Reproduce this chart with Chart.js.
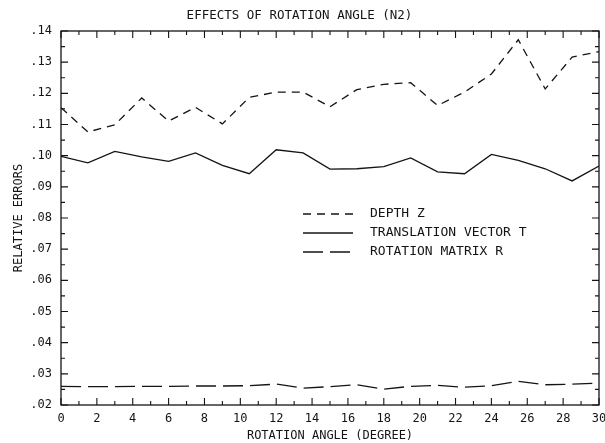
<!DOCTYPE html>
<html>
<head>
<meta charset="utf-8">
<script src="https://cdn.jsdelivr.net/npm/chart.js@4"></script>
<style>
  html, body { margin: 0; padding: 0; background: #fff; }
  #wrap { width: 605px; height: 443px; }
</style>
</head>
<body>
<div id="wrap"><canvas id="myChart" width="605" height="443"></canvas></div>
<script>
// rotation angle in degrees
const angles = [0, 1.5, 3, 4.5, 6, 7.5, 9, 10.5, 12, 13.5, 15, 16.5, 18, 19.5, 21, 22.5, 24, 25.5, 27, 28.5, 30];

const depthZ = [0.1154, 0.1076, 0.1099, 0.1185, 0.1111, 0.1155, 0.1102, 0.1187, 0.1204, 0.1204, 0.1157,
    0.1212, 0.1229, 0.1234, 0.1161, 0.1204, 0.1262, 0.1372, 0.1214, 0.1316, 0.1334];
const translationT = [0.0998, 0.0977, 0.1014, 0.0996, 0.0982, 0.1009, 0.0969, 0.0942, 0.1019, 0.1009, 0.0957,
    0.0958, 0.0965, 0.0993, 0.0948, 0.0942, 0.1004, 0.0985, 0.0958, 0.0919, 0.0967];
const rotationR = [0.0260, 0.0259, 0.0259, 0.0260, 0.0260, 0.0261, 0.0261, 0.0262, 0.0267, 0.0254, 0.0259,
    0.0265, 0.0251, 0.0260, 0.0263, 0.0257, 0.0262, 0.0276, 0.0265, 0.0267, 0.0270];

const seriesNames = ['DEPTH Z', 'TRANSLATION VECTOR T', 'ROTATION MATRIX R'];
const yTicks = [0.02, 0.03, 0.04, 0.05, 0.06, 0.07, 0.08, 0.09, 0.10, 0.11, 0.12, 0.13, 0.14];

const ink = '#141414';
const mono = "'DejaVu Sans Mono', 'Liberation Mono', monospace";

function pts(ys) {
    return ys.map((y, i) => ({x: angles[i], y: y}));
}

const dashes = [[8, 6], [], [20, 7]];

// inward tick marks, frame and the legend inside the plot
const plotterBits = {
    id: 'plotterBits',
    afterDatasetsDraw(chart) {
        const ctx = chart.ctx;
        const a = chart.chartArea;
        const xs = chart.scales.x, ys = chart.scales.y;
        ctx.save();
        ctx.strokeStyle = ink;
        ctx.lineWidth = 1.3;
        ctx.strokeRect(a.left, a.top, a.right - a.left, a.bottom - a.top);
        ctx.lineWidth = 1.1;
        ctx.beginPath();
        for (let d = 0; d <= 30; d++) {
            const px = xs.getPixelForValue(d);
            const len = d % 2 === 0 ? 7 : 4;
            ctx.moveTo(px, a.bottom); ctx.lineTo(px, a.bottom - len);
            ctx.moveTo(px, a.top); ctx.lineTo(px, a.top + len);
        }
        for (let k = 0; k <= 24; k++) {
            const v = 0.02 + k * 0.005;
            const py = ys.getPixelForValue(v);
            const len = k % 2 === 0 ? 7 : 4;
            ctx.moveTo(a.left, py); ctx.lineTo(a.left + len, py);
            ctx.moveTo(a.right, py); ctx.lineTo(a.right - len, py);
        }
        ctx.stroke();

        // legend
        const lx0 = 303, lx1 = 353, tx = 370;
        const rows = [214, 233, 252];
        ctx.font = '13px ' + mono;
        ctx.fillStyle = ink;
        ctx.textBaseline = 'middle';
        chart.data.datasets.forEach((ds, i) => {
            ctx.beginPath();
            ctx.setLineDash(ds.borderDash || []);
            ctx.lineWidth = 1.3;
            ctx.moveTo(lx0, rows[i]);
            ctx.lineTo(lx1, rows[i]);
            ctx.stroke();
            ctx.setLineDash([]);
            ctx.fillText(ds.label, tx, rows[i]);
        });
        ctx.restore();
    }
};

const config = {
    type: 'line',
    data: {
        datasets: [depthZ, translationT, rotationR].map((ys, i) => ({
            label: seriesNames[i],
            data: pts(ys),
            borderColor: ink,
            backgroundColor: ink,
            borderWidth: 1.3,
            borderDash: dashes[i],
            pointRadius: 0,
            tension: 0,
            fill: false
        }))
    },
    options: {
        responsive: false,
        animation: false,
        devicePixelRatio: 1,
        layout: {padding: {left: 0, right: 6, top: 0, bottom: 0}},
        plugins: {
            legend: {display: false},
            tooltip: {enabled: false},
            title: {
                display: true,
                text: 'EFFECTS OF ROTATION ANGLE (N2)',
                color: ink,
                font: {family: mono, size: 12.5, weight: 'normal'},
                padding: {top: 8, bottom: 8}
            }
        },
        scales: {
            x: {
                type: 'linear',
                min: 0,
                max: 30,
                grid: {display: false, drawTicks: false},
                border: {display: false},
                ticks: {
                    stepSize: 2,
                    color: ink,
                    padding: 7,
                    maxRotation: 0,
                    font: {family: mono, size: 12}
                },
                title: {
                    display: true,
                    text: 'ROTATION ANGLE (DEGREE)',
                    color: ink,
                    font: {family: mono, size: 12},
                    padding: {top: 0, bottom: 0}
                },
                afterFit(s) {
                    s.height = 38;
                    s.paddingLeft = 0;
                    s.paddingRight = 0;
                }
            },
            y: {
                min: 0.02,
                max: 0.14,
                afterBuildTicks(s) {
                    s.ticks = yTicks.map(v => ({value: v}));
                },
                grid: {display: false, drawTicks: false},
                border: {display: false},
                ticks: {
                    color: ink,
                    padding: 9,
                    font: {family: mono, size: 12},
                    callback: v => v.toFixed(2).slice(1)
                },
                title: {
                    display: true,
                    text: 'RELATIVE ERRORS',
                    color: ink,
                    font: {family: mono, size: 12},
                    padding: {top: 12, bottom: 0}
                },
                afterFit(s) {
                    s.width = 61;
                    s.paddingTop = 0;
                    s.paddingBottom = 0;
                }
            }
        }
    },
    plugins: [plotterBits]
};

const myChart = new Chart(document.getElementById('myChart'), config);
</script>
</body>
</html>
